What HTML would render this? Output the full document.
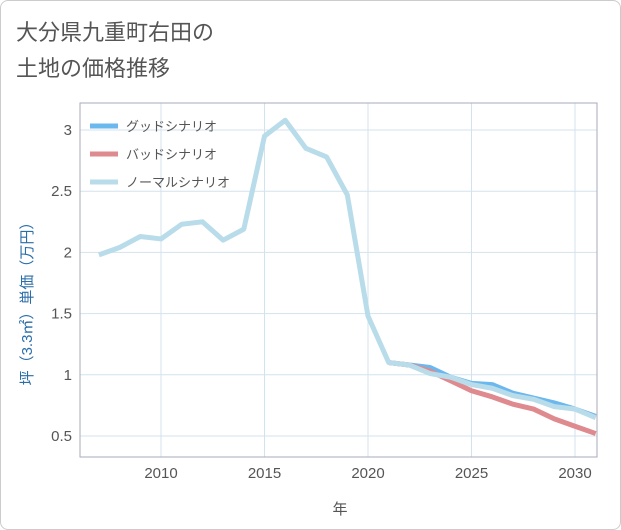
<!DOCTYPE html>
<html><head><meta charset="utf-8"><style>
body{margin:0;background:#fff;font-family:"Liberation Sans","Noto Sans CJK JP",sans-serif;}
#wrap{position:relative;width:619px;height:528px;border:1px solid #ccc;border-radius:8px;background:#fff;overflow:hidden;}
</style></head><body>
<div id="wrap">
<svg id="chart" width="621" height="530" style="position:absolute;left:-1px;top:-1px">
<text x="16" y="40" font-size="22" fill="#555">大分県九重町右田の</text>
<text x="16" y="76" font-size="22" fill="#555">土地の価格推移</text>
<g id="grid"></g>
<rect x="80" y="103" width="517" height="354" fill="none" stroke="#aab"/>
<g id="series"></g>
<g id="legend"></g>
<text x="340" y="514" font-size="15" fill="#555" text-anchor="middle">年</text>
<text transform="translate(32,300) rotate(-90)" font-size="15" fill="#2a6ea8" text-anchor="middle">坪（3.3㎡）単価（万円）</text>
</svg>
</div>
<script>
const normalYears=[2007,2008,2009,2010,2011,2012,2013,2014,2015,2016,2017,2018,2019,2020,2021,2022,2023,2024,2025,2026,2027,2028,2029,2030,2031];
const normalValues=[1.98,2.04,2.13,2.11,2.23,2.25,2.10,2.19,2.95,3.08,2.85,2.78,2.47,1.48,1.10,1.08,1.01,0.98,0.92,0.89,0.83,0.80,0.74,0.72,0.65];
const forecastYears=[2021,2022,2023,2024,2025,2026,2027,2028,2029,2030,2031];
const goodValues=[1.10,1.08,1.06,0.98,0.93,0.92,0.85,0.81,0.77,0.72,0.66];
const badValues=[1.10,1.08,1.03,0.95,0.87,0.82,0.76,0.72,0.64,0.58,0.52];
const xTicks=[2010,2015,2020,2025,2030];
const yTicks=[0.5,1,1.5,2,2.5,3];
const NS="http://www.w3.org/2000/svg";
function xs(y){return 161+(y-2010)*20.7;}
function ys(v){return 130+(3-v)*122.4;}
function mk(t,a,p){const e=document.createElementNS(NS,t);for(const k in a)e.setAttribute(k,a[k]);p.appendChild(e);return e;}
const grid=document.getElementById('grid');
xTicks.forEach(t=>{
 const l=mk('line',{x1:xs(t),x2:xs(t),y1:103,y2:457,stroke:'#d3e3ee'},grid);
 
 
 const tx=mk('text',{x:xs(t),y:478,'font-size':15,fill:'#555','text-anchor':'middle'},grid);
 tx.textContent=t;
 
 
});
yTicks.forEach(t=>{
 const l=mk('line',{x1:80,x2:597,y1:ys(t),y2:ys(t),stroke:'#d3e3ee'},grid);
 
 
 const tx=mk('text',{x:72,y:ys(t)+5,'font-size':15,fill:'#555','text-anchor':'end'},grid);
 tx.textContent=t;
 
 
});
const ser=document.getElementById('series');
const cp=mk('clipPath',{id:'cp'},ser);mk('rect',{x:80,y:103,width:517,height:354},cp);
function line(xsArr,vals,color,name){
 const p=mk('polyline',{points:xsArr.map((y,i)=>xs(y)+','+ys(vals[i])).join(' '),fill:'none',stroke:color,'stroke-width':5,'stroke-linejoin':'round','clip-path':'url(#cp)'},ser);
 
 
}
line(forecastYears,goodValues,'#6bb8ee','good-scenario-line');
line(forecastYears,badValues,'#de8a8f','bad-scenario-line');
line(normalYears,normalValues,'#b9dcea','normal-scenario-line');
const leg=document.getElementById('legend');
[['グッドシナリオ','#6bb8ee','legend-good'],['バッドシナリオ','#de8a8f','legend-bad'],['ノーマルシナリオ','#b9dcea','legend-normal']].forEach((d,i)=>{
 const y=126+i*28;
 const g=mk('g',{},leg);
 
 
 mk('line',{x1:90,x2:118,y1:y,y2:y,stroke:d[1],'stroke-width':5},g);
 const t=mk('text',{x:126,y:y+5,'font-size':13,fill:'#555'},g);t.textContent=d[0];
});
</script>
</body></html>
